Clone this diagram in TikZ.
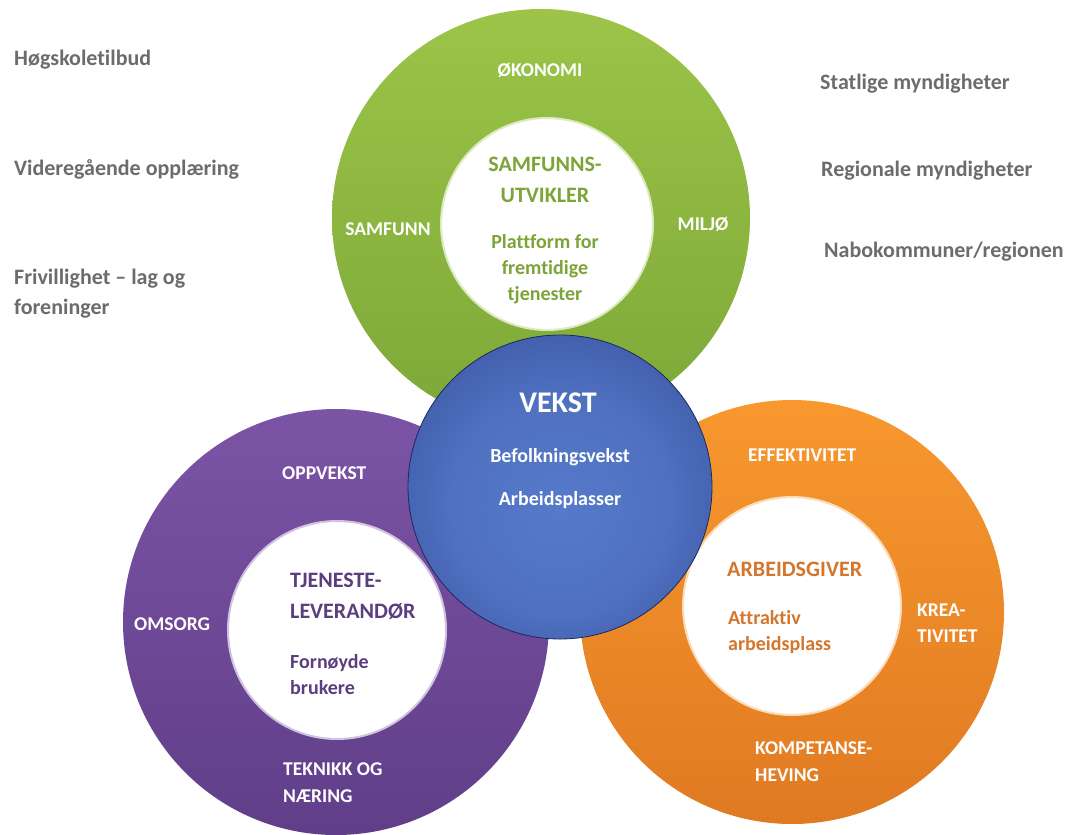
\documentclass[tikz,border=0pt]{standalone}
\usepackage{fontspec}
\setmainfont{Carlito}[Ligatures=NoCommon]

\definecolor{sidegray}{RGB}{108,108,108}
\definecolor{greentop}{RGB}{156,196,72}
\definecolor{greenbot}{RGB}{124,168,56}
\definecolor{greentext}{RGB}{124,164,54}
\definecolor{purpletop}{RGB}{124,84,166}
\definecolor{purplebot}{RGB}{96,62,136}
\definecolor{purpletext}{RGB}{90,62,128}
\definecolor{orangetop}{RGB}{248,152,46}
\definecolor{orangebot}{RGB}{224,122,34}
\definecolor{orangetext}{RGB}{212,118,44}
\definecolor{vekstlight}{RGB}{86,122,202}
\definecolor{vekstdark}{RGB}{38,58,132}

\pgfdeclareradialshading{vekstshade}{\pgfpoint{0bp}{-4bp}}{%
  color(0bp)=(vekstlight); color(18bp)=(vekstlight!85!vekstdark);
  color(50bp)=(vekstdark); color(70bp)=(vekstdark)}

\begin{document}
\begin{tikzpicture}[x=1pt, y=-1pt,
    ringnode/.style={circle, inner sep=0pt, minimum size=#1},
    holenode/.style 2 args={circle, inner sep=0pt, fill=white, minimum size=#1,
      draw=#2!35!white, line width=2pt},
    sidetext/.style={anchor=west, inner sep=0pt, text=sidegray, align=left,
      font=\fontsize{22}{30}\selectfont\bfseries},
    ringlabel/.style={anchor=west, inner sep=0pt, text=white, align=left,
      font=\fontsize{19.5}{27}\selectfont\bfseries},
    titletext/.style={inner sep=0pt, font=\fontsize{22}{31}\selectfont\bfseries},
    subtext/.style={inner sep=0pt, font=\fontsize{20}{26}\selectfont\bfseries}]

  % Sfondo e riquadro
  \fill[white] (0,0) rectangle (1068,835);
  \useasboundingbox (0,0) rectangle (1068,835);

  % Anelli
  \node[ringnode=418pt, top color=greentop, bottom color=greenbot] (samfring) at (541,218) {};
  \node[holenode={212pt}{greentop}] (samfhole) at (547,224) {};
  \node[ringnode=426pt, top color=purpletop, bottom color=purplebot] (tjenring) at (336,622) {};
  \node[holenode={218pt}{purpletop}] (tjenhole) at (337,630) {};
  \node[ringnode=424pt, top color=orangetop, bottom color=orangebot] (arbring) at (792,612) {};
  \node[holenode={218pt}{orangetop}] (arbhole) at (792,606) {};

  % Cerchio centrale
  \node[circle, inner sep=0pt, minimum size=304pt, shading=vekstshade,
    draw=vekstdark!70!black, line width=0.8pt] (vekst) at (560,487) {};

  % Testi a sinistra e a destra
  \node[sidetext] (hogskole) at (14,60) {Høgskoletilbud};
  \node[sidetext] (vgs) at (14,169) {Videregående opplæring};
  \node[sidetext] (frivillig) at (14,294) {Frivillighet – lag og\\foreninger};
  \node[sidetext] (statlig) at (820,84) {Statlige myndigheter};
  \node[sidetext] (regional) at (821,171) {Regionale myndigheter};
  \node[sidetext] (nabo) at (824,252) {Nabokommuner/regionen};

  % Anello verde
  \node[ringlabel, anchor=center] (okonomi) at (540,70) {ØKONOMI};
  \node[ringlabel, anchor=center] (samfunn) at (388,229) {SAMFUNN};
  \node[ringlabel, anchor=center] (miljo) at (703,224) {MILJØ};
  \node[titletext, text=greentext, align=center] (samfutv) at (545,180) {SAMFUNNS-\\UTVIKLER};
  \node[subtext, text=greentext, align=center] (plattform) at (545,269) {Plattform for\\fremtidige\\tjenester};

  % Anello viola
  \node[ringlabel] (oppvekst) at (282,473) {OPPVEKST};
  \node[ringlabel] (omsorg) at (134,624) {OMSORG};
  \node[titletext, text=purpletext, anchor=west, align=left] (tjenlev) at (290,596) {TJENESTE-\\LEVERANDØR};
  \node[subtext, text=purpletext, anchor=west, align=left] (fornoyd) at (290,675) {Fornøyde\\brukere};
  \node[ringlabel] (teknikk) at (283,783) {TEKNIKK OG\\NÆRING};

  % Anello arancione
  \node[ringlabel] (effektiv) at (748,455) {EFFEKTIVITET};
  \node[titletext, text=orangetext, anchor=west] (arbgiver) at (727,569) {ARBEIDSGIVER};
  \node[subtext, text=orangetext, anchor=west, align=left] (attraktiv) at (728,632) {Attraktiv\\arbeidsplass};
  \node[ringlabel, font=\fontsize{19.5}{26}\selectfont\bfseries] (kreativ) at (917,623) {KREA-\\TIVITET};
  \node[ringlabel] (kompetanse) at (755,762) {KOMPETANSE-\\HEVING};

  % Testo centrale
  \node[inner sep=0pt, text=white, font=\fontsize{30}{34}\selectfont\bfseries] (vekstord) at (558,403) {VEKST};
  \node[subtext, text=white] (befolkning) at (560,457) {Befolkningsvekst};
  \node[subtext, text=white] (arbplass) at (560,500) {Arbeidsplasser};
\end{tikzpicture}
\end{document}
